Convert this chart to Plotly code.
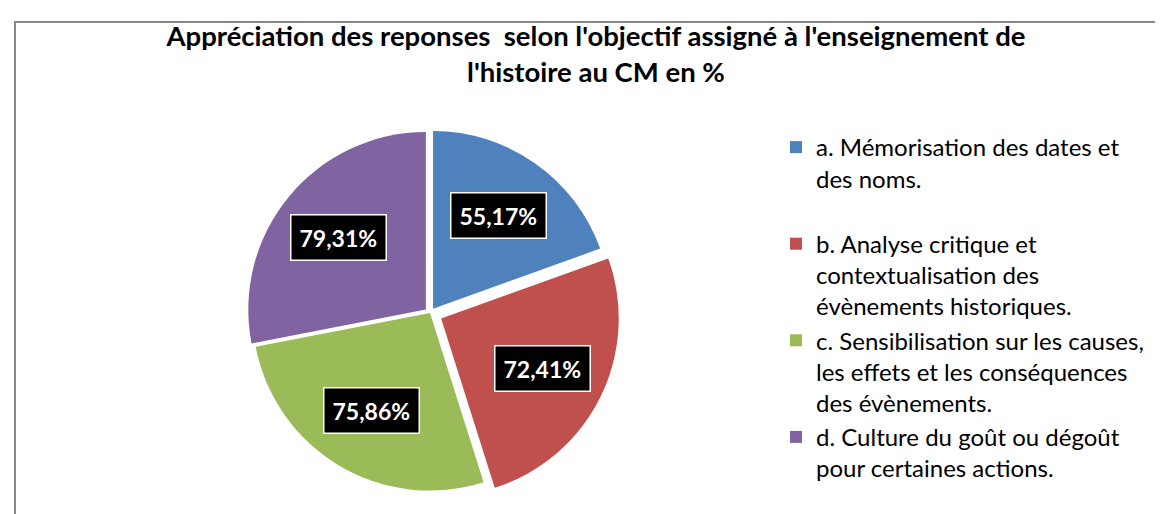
import math
import plotly.graph_objects as go

# ---- data ----
categories = [
    "a. Mémorisation des dates et des noms.",
    "b. Analyse critique et contextualisation des évènements historiques.",
    "c. Sensibilisation sur les causes, les effets et les conséquences des évènements.",
    "d. Culture du goût ou dégoût pour certaines actions.",
]
legend_labels = [
    "a. Mémorisation des dates et<br>des noms.<br> ",
    "b. Analyse critique et<br>contextualisation des<br>évènements historiques.",
    "c. Sensibilisation sur les causes,<br>les effets et les conséquences<br>des évènements.",
    "d. Culture du goût ou dégoût<br>pour certaines actions.",
]
values = [55.17, 72.41, 75.86, 79.31]
value_labels = ["55,17%", "72,41%", "75,86%", "79,31%"]
title_text = ("Appréciation des reponses  selon l'objectif assigné à l'enseignement de"
              "<br>l'histoire au CM en %")

# ---- style ----
colors = ["#4F81BD", "#C0504D", "#9BBB59", "#8064A2"]
pulls = [0.03, 0.07, 0.0, 0.03]
W, H = 1163, 514
cx, cy, half = 422, 305, 190  # pie centre / half-size in pixels
font_family = "Lato, Carlito, Calibri, sans-serif"

max_pull = max(pulls)
r = half / (1 + max_pull)

fig = go.Figure()
fig.add_trace(go.Pie(
    labels=legend_labels,
    values=values,
    sort=False,
    direction="clockwise",
    rotation=0,
    pull=pulls,
    marker=dict(colors=colors, line=dict(width=0)),
    textinfo="none",
    hoverinfo="label+value",
    domain=dict(x=[(cx - half) / W, (cx + half) / W],
                y=[1 - (cy + half) / H, 1 - (cy - half) / H]),
))

# data labels (black boxes), placed from slice angles derived from values
total = sum(values)
cum = 0.0
annotations = []
for v, lab, p in zip(values, value_labels, pulls):
    mid = (cum + v / 2) / total * 2 * math.pi
    cum += v
    dist = (0.64 + p) * r
    px = cx + dist * math.sin(mid)
    py = cy - dist * math.cos(mid)
    annotations.append(dict(
        x=px / W, y=1 - py / H, xref="paper", yref="paper",
        text="<b>%s</b>" % lab, showarrow=False,
        font=dict(family=font_family, size=23, color="white"),
        bgcolor="black", bordercolor="white", borderwidth=1.5, borderpad=8,
        xanchor="center", yanchor="middle",
    ))

fig.update_layout(
    width=W, height=H,
    margin=dict(l=0, r=0, t=0, b=0),
    paper_bgcolor="white",
    plot_bgcolor="white",
    title=dict(text="<b>%s</b>" % title_text, x=588 / W, xanchor="center",
               y=1 - 38 / H, yanchor="top",
               font=dict(family=font_family, size=27.5, color="black")),
    legend=dict(x=(816 - 48) / W, xanchor="left", y=1 - 117 / H, yanchor="top",
                valign="top", font=dict(family=font_family, size=24, color="black"),
                bgcolor="rgba(0,0,0,0)"),
    annotations=annotations,
    shapes=[dict(type="rect", xref="paper", yref="paper",
                 x0=7 / W, x1=1 + 10 / W, y0=-10 / H, y1=1 - 14 / H,
                 line=dict(color="#878787", width=2), fillcolor="rgba(0,0,0,0)")],
)

fig.write_html("out.html")
